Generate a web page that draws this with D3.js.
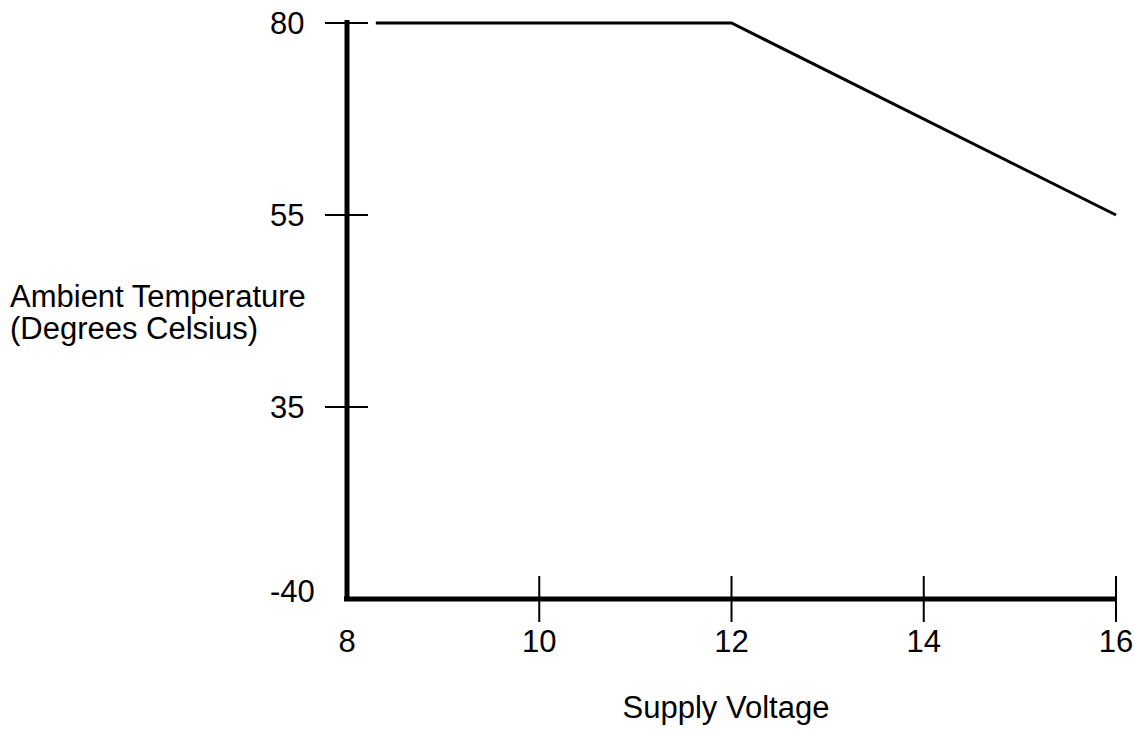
<!DOCTYPE html>
<html>
<head>
<meta charset="utf-8">
<script src="https://cdn.jsdelivr.net/npm/d3@7"></script>
<style>
  body { margin: 0; background: #fff; }
  text { font-family: "Liberation Sans", Arial, Helvetica, sans-serif; fill: #000; }
</style>
</head>
<body>
<svg id="chart" width="1134" height="731"></svg>
<script>
// data
var voltage = [8.3, 12, 16]
var temperature = [80, 80, 55]
var xTicks = [8, 10, 12, 14, 16]
var yTicks = [-40, 35, 55, 80]

var svg = d3.select("#chart")
var margin = { top: 23, right: 18, bottom: 132, left: 347 }
var width = +svg.attr("width")
var height = +svg.attr("height")

var x = d3.scaleLinear()
    .domain([8, 16])
    .range([margin.left, width - margin.right])

// the y axis is not to scale: every tick gets the same spacing
var y = d3.scaleLinear()
    .domain(yTicks)
    .range(yTicks.map((d, i) => height - margin.bottom - i * (height - margin.bottom - margin.top) / (yTicks.length - 1)))

var fontSize = 31

// x axis: thick base line, ticks crossing it
var xAxis = svg.append("g")
xAxis.append("line")
    .attr("x1", x(8) - 3).attr("x2", x(16))
    .attr("y1", y(-40)).attr("y2", y(-40))
    .attr("stroke", "#000").attr("stroke-width", 5)
xAxis.selectAll(".tick")
    .data(xTicks.slice(1))
    .enter().append("line")
    .attr("x1", d => x(d)).attr("x2", d => x(d))
    .attr("y1", y(-40) - 23).attr("y2", y(-40) + 23)
    .attr("stroke", "#000").attr("stroke-width", 2)
xAxis.selectAll("text")
    .data(xTicks)
    .enter().append("text")
    .attr("x", d => x(d))
    .attr("y", y(-40) + 53)
    .attr("text-anchor", "middle")
    .attr("font-size", fontSize)
    .text(d => d)

// y axis
var yAxis = svg.append("g")
yAxis.append("line")
    .attr("x1", x(8)).attr("x2", x(8))
    .attr("y1", y(80) - 3).attr("y2", y(-40) + 2)
    .attr("stroke", "#000").attr("stroke-width", 5)
yAxis.selectAll(".tick")
    .data(yTicks.slice(1))
    .enter().append("line")
    .attr("x1", x(8) - 22).attr("x2", x(8) + 21)
    .attr("y1", d => y(d)).attr("y2", d => y(d))
    .attr("stroke", "#000").attr("stroke-width", 2)
yAxis.selectAll("text")
    .data(yTicks)
    .enter().append("text")
    .attr("x", x(8) - 77)
    .attr("y", d => y(d) - (d === -40 ? 8 : 0))
    .attr("dy", "0.35em")
    .attr("text-anchor", "start")
    .attr("font-size", fontSize)
    .text(d => d)

// the curve
var line = d3.line()
    .x((d, i) => x(voltage[i]))
    .y(d => y(d))
svg.append("path")
    .datum(temperature)
    .attr("d", line)
    .attr("fill", "none")
    .attr("stroke", "#000")
    .attr("stroke-width", 3)

// titles
var yTitle = svg.append("text")
    .attr("x", 10)
    .attr("y", 307)
    .attr("font-size", fontSize)
yTitle.append("tspan").attr("x", 10).text("Ambient Temperature")
yTitle.append("tspan").attr("x", 10).attr("dy", 32).text("(Degrees Celsius)")

svg.append("text")
    .attr("x", 726)
    .attr("y", 718)
    .attr("text-anchor", "middle")
    .attr("font-size", fontSize)
    .text("Supply Voltage")
</script>
</body>
</html>
